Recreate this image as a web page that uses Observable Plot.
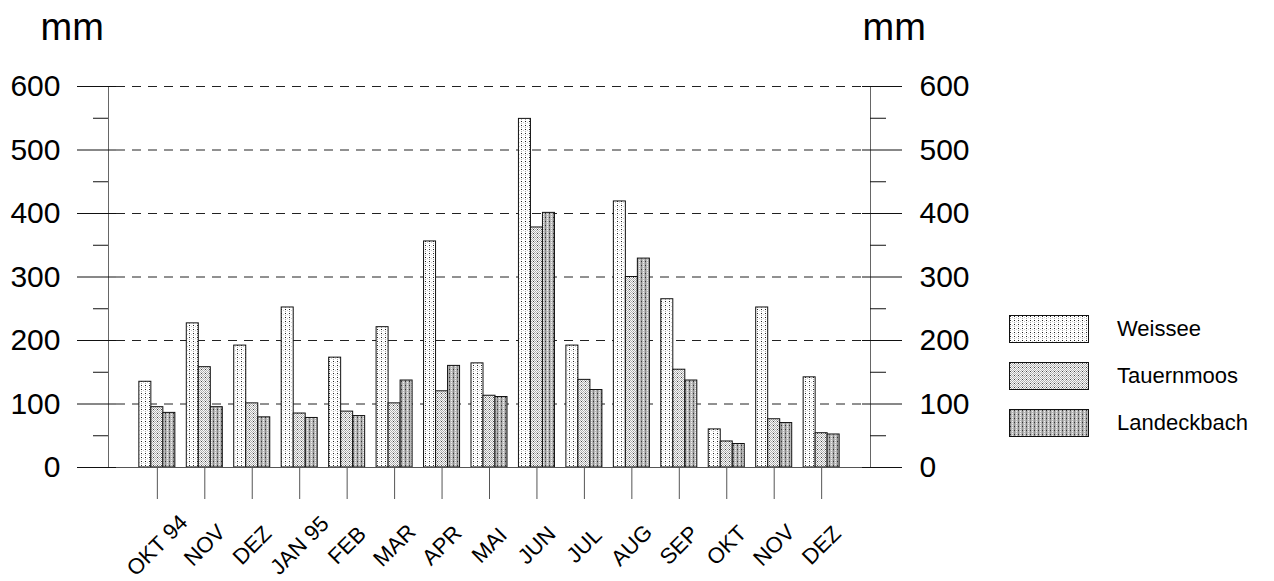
<!DOCTYPE html>
<html>
<head>
<meta charset="utf-8">
<script src="https://cdn.jsdelivr.net/npm/d3@7"></script>
<script src="https://cdn.jsdelivr.net/npm/@observablehq/plot@0.6"></script>
<style>
  html, body { margin: 0; padding: 0; background: #fff; }
  body { width: 1274px; height: 581px; position: relative; overflow: hidden;
         font-family: "Liberation Sans", Arial, Helvetica, sans-serif; color: #000; }
  #chart { position: absolute; left: 0; top: 0; }
  #legend { position: absolute; left: 1009px; top: 315px; }
  .row { display: flex; align-items: center; height: 28px; margin-bottom: 19px; }
  .row svg { display: block; }
  .row span { margin-left: 28px; font-size: 22px; }
</style>
</head>
<body>
<svg width="0" height="0" style="position:absolute">
  <defs>
    <pattern id="pat0" width="4" height="4" patternUnits="userSpaceOnUse">
      <rect width="4" height="4" fill="#fff"/>
      <rect x="1" y="1" width="1" height="1" fill="#222"/>
      <rect x="1" y="3" width="1" height="1" fill="#aaa"/>
      <rect x="3" y="2" width="1" height="1" fill="#cfcfcf"/>
    </pattern>
    <pattern id="pat1" width="4" height="4" patternUnits="userSpaceOnUse">
      <rect width="4" height="4" fill="#fafafa"/>
      <rect x="0" y="0" width="1" height="1" fill="#b0b0b0"/>
      <rect x="2" y="0" width="1" height="1" fill="#b0b0b0"/>
      <rect x="1" y="1" width="1" height="1" fill="#444"/>
      <rect x="3" y="1" width="1" height="1" fill="#b0b0b0"/>
      <rect x="0" y="2" width="1" height="1" fill="#b0b0b0"/>
      <rect x="2" y="2" width="1" height="1" fill="#b0b0b0"/>
      <rect x="1" y="3" width="1" height="1" fill="#b0b0b0"/>
      <rect x="3" y="3" width="1" height="1" fill="#b0b0b0"/>
    </pattern>
    <pattern id="pat2" width="4" height="4" patternUnits="userSpaceOnUse">
      <rect width="4" height="4" fill="#b9b9b9"/>
      <rect x="1" y="0" width="1" height="4" fill="#8c8c8c"/>
      <rect x="1" y="1" width="1" height="1" fill="#333"/>
      <rect x="3" y="0" width="1" height="1" fill="#eee"/>
      <rect x="3" y="2" width="1" height="1" fill="#eee"/>
    </pattern>
  </defs>
</svg>
<div id="chart"></div>
<div id="legend"></div>
<script>
// ---- data ----
const months = ["OKT 94","NOV 94","DEZ 94","JAN 95","FEB 95","MAR 95","APR 95","MAI 95","JUN 95","JUL 95","AUG 95","SEP 95","OKT 95","NOV 95","DEZ 95"];
const monthLabels = ["OKT 94","NOV","DEZ","JAN 95","FEB","MAR","APR","MAI","JUN","JUL","AUG","SEP","OKT","NOV","DEZ"];
const seriesNames = ["Weissee","Tauernmoos","Landeckbach"];
const weissee     = [135, 227, 192, 252, 173, 221, 356, 164, 549, 192, 419, 265, 60, 252, 142];
const tauernmoos  = [ 95, 158, 101,  85,  88, 101, 120, 113, 378, 138, 300, 154, 41,  76,  54];
const landeckbach = [ 86,  95,  79,  78,  81, 137, 160, 111, 401, 122, 329, 137, 37,  70,  52];
const majorTicks = [0, 100, 200, 300, 400, 500, 600];
const minorTicks = [50, 150, 250, 350, 450, 550];
const gridTicks  = [100, 200, 300, 400, 500, 600];
const unitLabel = "mm";

// ---- build ----
const seriesValues = [weissee, tauernmoos, landeckbach];
const patterns = ["url(#pat0)", "url(#pat1)", "url(#pat2)"];
const labelOf = new Map(months.map((m, i) => [m, monthLabels[i]]));
const rows = seriesNames.map((s, k) => months.map((m, i) => ({month: m, series: s, value: seriesValues[k][i]})));

const W = 1274, H = 581, ML = 108, MR = 404, MT = 86, MB = 114;
const PI = 0.241, PO = 0.65;
const bw = d3.scaleBand().domain(months).range([ML, W - MR]).paddingInner(PI).paddingOuter(PO).bandwidth();
const frameW = W - MR - ML;

const chart = Plot.plot({
  width: W, height: H,
  marginLeft: ML, marginRight: MR, marginTop: MT, marginBottom: MB,
  x: {domain: months, paddingInner: PI, paddingOuter: PO, round: false},
  y: {domain: [0, 600]},
  style: {fontFamily: '"Liberation Sans", Arial, Helvetica, sans-serif', fontSize: "21px", color: "#000", background: "transparent", overflow: "visible"},
  marks: [
    Plot.ruleY(gridTicks, {stroke: "#222", strokeDasharray: "9,7", insetLeft: 8, insetRight: 8}),
    ...rows.map((data, k) => Plot.barY(data, {
      x: "month", y: "value", fill: patterns[k], stroke: "#111", strokeWidth: 1,
      insetLeft: k * bw / 3, insetRight: (2 - k) * bw / 3
    })),
    Plot.ruleY([0], {stroke: "#555"}),
    Plot.frame({anchor: "left", stroke: "#666"}),
    Plot.frame({anchor: "right", stroke: "#666"}),
    Plot.ruleY(majorTicks, {stroke: "#111", insetLeft: -31, insetRight: frameW - 8}),
    Plot.ruleY(minorTicks, {stroke: "#111", insetLeft: -15, insetRight: frameW}),
    Plot.ruleY(majorTicks, {stroke: "#111", insetLeft: frameW - 8, insetRight: -32}),
    Plot.ruleY(minorTicks, {stroke: "#111", insetLeft: frameW, insetRight: -16}),
    Plot.axisY(majorTicks, {anchor: "left", tickSize: 0, tickPadding: 48, fontSize: 30, label: null}),
    Plot.axisY(majorTicks, {anchor: "right", tickSize: 0, tickPadding: 49, fontSize: 30, label: null}),
    Plot.axisX({anchor: "bottom", tickSize: 32, tickPadding: 46, tickRotate: -45, fontSize: 22,
      textAnchor: "middle", lineAnchor: "middle", stroke: "#555", label: null,
      tickFormat: d => labelOf.get(d)}),
    Plot.text([unitLabel], {text: d => d, frameAnchor: "top-left", textAnchor: "start", dx: -68, dy: -73, fontSize: 38}),
    Plot.text([unitLabel], {text: d => d, frameAnchor: "top-right", textAnchor: "start", dx: -8, dy: -73, fontSize: 38})
  ]
});
document.getElementById("chart").appendChild(chart);

// ---- legend ----
const legend = d3.select("#legend");
seriesNames.forEach((s, k) => {
  const row = legend.append("div").attr("class", "row");
  const sw = row.append("svg").attr("width", 80).attr("height", 28);
  sw.append("rect").attr("x", 0.5).attr("y", 0.5).attr("width", 79).attr("height", 27)
    .attr("fill", patterns[k]).attr("stroke", "#111");
  row.append("span").text(s);
});
</script>
</body>
</html>
